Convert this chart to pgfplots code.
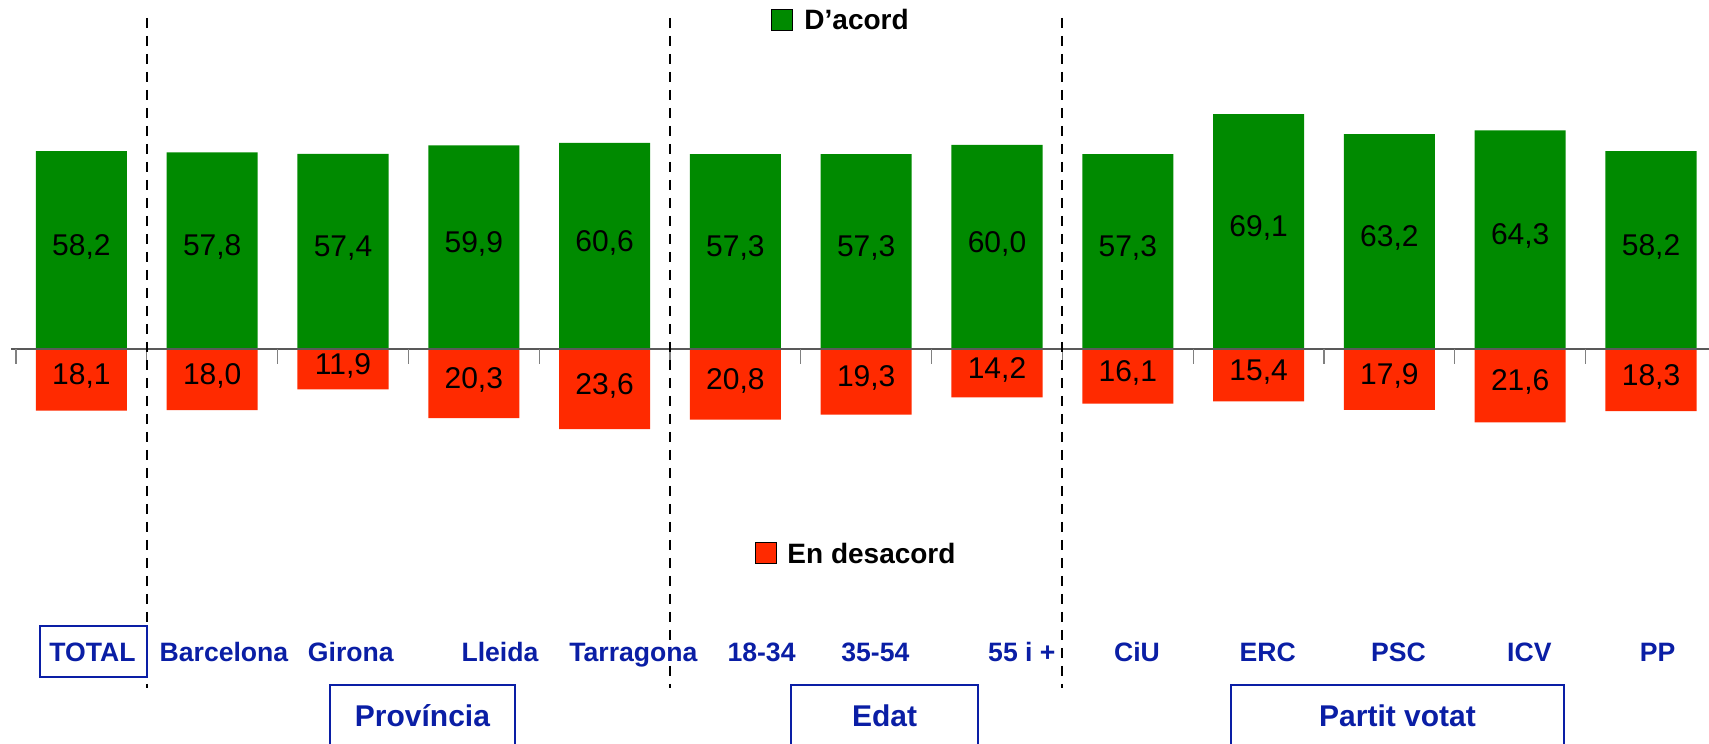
\documentclass[border=0pt]{standalone}
\usepackage{pgfplots}
\pgfplotsset{compat=1.18}
\usepackage{pgfplotstable}
\usepackage{fontspec}
\setmainfont{Liberation Sans}
\definecolor{agree}{RGB}{0,138,0}
\definecolor{disagree}{RGB}{255,42,0}
\definecolor{lblblue}{RGB}{10,30,165}

\pgfplotstableread{
x a d
0 58.2 18.1
1 57.8 18.0
2 57.4 11.9
3 59.9 20.3
4 60.6 23.6
5 57.3 20.8
6 57.3 19.3
7 60.0 14.2
8 57.3 16.1
9 69.1 15.4
10 63.2 17.9
11 64.3 21.6
12 58.2 18.3
}\datatable

\tikzset{
  cat/.style={text=lblblue, font=\fontsize{13.3}{16}\bfseries\selectfont, anchor=base, inner sep=0pt},
  grp/.style={text=lblblue, font=\fontsize{15}{18}\bfseries\selectfont, anchor=center, inner sep=0pt},
}

\begin{document}
\begin{tikzpicture}
\useasboundingbox (0,0) rectangle (854.5pt,372pt);
\begin{axis}[
  at={(8pt,27.5pt)}, anchor=south west,
  x=65.4pt, y=1.7pt,
  xmin=-0.5, xmax=12.5, ymin=-100, ymax=100,
  hide axis, clip=false,
  /pgf/number format/use comma,
  /pgf/number format/fixed,
  /pgf/number format/fixed zerofill,
  /pgf/number format/precision=1,
  /pgf/number format/assume math mode=true,
]
% bars
\addplot[ybar, bar width=0.696, bar shift=0pt, fill=agree, draw=none] table[x=x,y=a]{\datatable};
\addplot[ybar, bar width=0.696, bar shift=0pt, fill=disagree, draw=none] table[x=x,y expr=-\thisrow{d}]{\datatable};
% value labels
\addplot[draw=none, no markers, nodes near coords, point meta=explicit,
  every node near coord/.append style={anchor=center, text=black, font=\fontsize{15}{18}\selectfont}]
  table[x=x, y expr=\thisrow{a}/2+1, meta=a]{\datatable};
\addplot[draw=none, no markers, nodes near coords, point meta=explicit,
  every node near coord/.append style={anchor=center, text=black, font=\fontsize{15}{18}\selectfont}]
  table[x=x, y expr=-\thisrow{d}/2+1, meta=d]{\datatable};
% zero line and ticks
\draw[black!65, line width=0.8pt] (axis cs:-0.54,0) -- (axis cs:12.6,0);
\pgfplotsinvokeforeach{-0.5,0.5,1.5,2.5,3.5,4.5,5.5,6.5,7.5,8.5,9.5,10.5,11.5}{
  \draw[black!50, line width=0.6pt] (axis cs:#1,0) -- (axis cs:#1,-4.4);
}
% dashed separators
\pgfplotsinvokeforeach{0.5,4.5,7.5}{
  \draw[black, line width=1pt, dash pattern=on 5pt off 4pt] (axis cs:#1,97.4) -- (axis cs:#1,-99.7);
}
% legend
\node[draw=black, fill=agree, line width=0.8pt, minimum size=10.5pt, inner sep=0pt] at (axis cs:5.356,96.8) {};
\node[anchor=west, inner sep=0pt, font=\fontsize{14}{17}\bfseries\selectfont] at (axis cs:5.525,96.8) {D’acord};
\node[draw=black, fill=disagree, line width=0.8pt, minimum size=10.5pt, inner sep=0pt] at (axis cs:5.234,-60) {};
\node[anchor=west, inner sep=0pt, font=\fontsize{14}{17}\bfseries\selectfont] at (axis cs:5.395,-60) {En desacord};
% category labels
\draw[lblblue, line width=1pt] (axis cs:-0.317,-81.5) rectangle (axis cs:0.5,-96.5);
\node[cat] at (axis cs:0.085,-91.8) {TOTAL};
\node[cat] at (axis cs:1.09,-91.8) {Barcelona};
\node[cat] at (axis cs:2.06,-91.8) {Girona};
\node[cat] at (axis cs:3.20,-91.8) {Lleida};
\node[cat] at (axis cs:4.22,-91.8) {Tarragona};
\node[cat] at (axis cs:5.20,-91.8) {18-34};
\node[cat] at (axis cs:6.07,-91.8) {35-54};
\node[cat] at (axis cs:7.19,-91.8) {55 i +};
\node[cat] at (axis cs:8.07,-91.8) {CiU};
\node[cat] at (axis cs:9.07,-91.8) {ERC};
\node[cat] at (axis cs:10.07,-91.8) {PSC};
\node[cat] at (axis cs:11.07,-91.8) {ICV};
\node[cat] at (axis cs:12.05,-91.8) {PP};
% group boxes
\draw[lblblue, line width=1pt] (axis cs:1.90,-125) -- (axis cs:1.90,-98.8) -- (axis cs:3.315,-98.8) -- (axis cs:3.315,-125);
\node[grp] at (axis cs:2.6075,-107.9) {Província};
\draw[lblblue, line width=1pt] (axis cs:5.425,-125) -- (axis cs:5.425,-98.8) -- (axis cs:6.855,-98.8) -- (axis cs:6.855,-125);
\node[grp] at (axis cs:6.14,-107.9) {Edat};
\draw[lblblue, line width=1pt] (axis cs:8.789,-125) -- (axis cs:8.789,-98.8) -- (axis cs:11.335,-98.8) -- (axis cs:11.335,-125);
\node[grp] at (axis cs:10.062,-107.9) {Partit votat};
\end{axis}
\end{tikzpicture}
\end{document}
